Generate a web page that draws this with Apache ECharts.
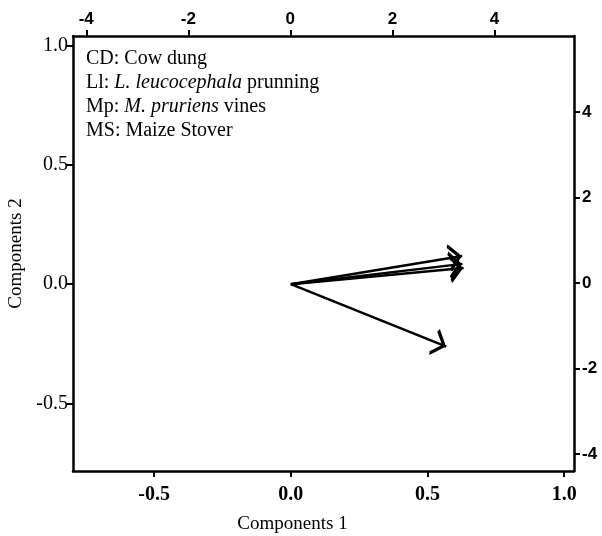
<!DOCTYPE html>
<html>
<head>
<meta charset="utf-8">
<script src="https://cdn.jsdelivr.net/npm/echarts@6/dist/echarts.min.js"></script>
<style>
  html, body { margin: 0; padding: 0; background: #fff; }
  #chart { width: 602px; height: 536px; }
</style>
</head>
<body>
<div id="chart"></div>
<script>
// loadings (components 1, components 2)
var varNames = ["CD", "Ll", "Mp", "MS"];
var comp1 = [0.627, 0.628, 0.632, 0.569];
var comp2 = [0.118, 0.085, 0.068, -0.262];

// tick labels
var bottomTicks = [-0.5, 0, 0.5, 1.0];
var leftTicks = [-0.5, 0, 0.5, 1.0];
var topTicks = [-4, -2, 0, 2, 4];
var rightTicks = [-4, -2, 0, 2, 4];

var legendLines = [
  "{n|CD: Cow dung}",
  "{n|Ll: }{i|L. leucocephala}{n| prunning}",
  "{n|Mp: }{i|M. pruriens}{n| vines}",
  "{n|MS: Maize Stover}"
];

var serif = "Liberation Serif";
// open chevron head, tip at the centre of the box
var chevron = "path://M0,-14L0.01,-14L0,-13.99Z M0,0L7.5,12L5.6,13.3L0,4.2L-5.6,13.3L-7.5,12Z";

var chart = echarts.init(document.getElementById("chart"));

function axisBase(ticks, fmt, font) {
  return {
    type: "value",
    axisLine: { show: true, onZero: false, lineStyle: { color: "#000", width: 2.5 } },
    axisTick: { show: true, length: 6, customValues: ticks, lineStyle: { color: "#000", width: 2 } },
    axisLabel: Object.assign({ customValues: ticks, color: "#000", formatter: fmt }, font),
    splitLine: { show: false }
  };
}

var series = varNames.map(function (name, i) {
  return {
    name: name,
    type: "lines",
    coordinateSystem: "cartesian2d",
    xAxisIndex: 0,
    yAxisIndex: 0,
    symbol: ["none", chevron],
    symbolSize: [15, 28],
    lineStyle: { color: "#000", width: 2.5, opacity: 1 },
    silent: true,
    data: [{ coords: [[0, 0], [comp1[i], comp2[i]]] }]
  };
});

var option = {
  animation: false,
  grid: { left: 73, right: 28, top: 36, bottom: 65, containLabel: false, outerBoundsMode: "none" },
  xAxis: [
    Object.assign(axisBase(bottomTicks, function (v) { return v.toFixed(1); },
      { fontFamily: serif, fontSize: 20, fontWeight: "bold", margin: 14 }), {
      position: "bottom", min: -0.797, max: 1.036,
      name: "Components 1", nameLocation: "middle", nameGap: 44,
      nameTextStyle: { fontFamily: serif, fontSize: 19, color: "#000", padding: [0, 62, 0, 0] }
    }),
    Object.assign(axisBase(topTicks, function (v) { return String(v); },
      { fontFamily: "Liberation Sans", fontSize: 17, fontWeight: "bold", margin: 8 }), {
      position: "top", min: -4.26, max: 5.56
    })
  ],
  yAxis: [
    Object.assign(axisBase(leftTicks, function (v) { return v.toFixed(1); },
      { fontFamily: serif, fontSize: 20, margin: 5 }), {
      position: "left", min: -0.783, max: 1.04,
      name: "Components 2", nameLocation: "middle", nameGap: 41,
      nameTextStyle: { fontFamily: serif, fontSize: 19, color: "#000" }
    }),
    Object.assign(axisBase(rightTicks, function (v) { return String(v); },
      { fontFamily: "Liberation Sans", fontSize: 17, fontWeight: "bold", margin: 8 }), {
      position: "right", min: -4.40, max: 5.78
    })
  ],
  graphic: [{
    type: "text",
    left: 86,
    top: 47,
    style: {
      text: legendLines.join("\n"),
      lineHeight: 24,
      fill: "#000",
      rich: {
        n: { fontFamily: serif, fontSize: 20, lineHeight: 24, color: "#000" },
        i: { fontFamily: serif, fontSize: 20, lineHeight: 24, fontStyle: "italic", color: "#000" }
      }
    }
  }],
  series: series
};

chart.setOption(option);
</script>
</body>
</html>
